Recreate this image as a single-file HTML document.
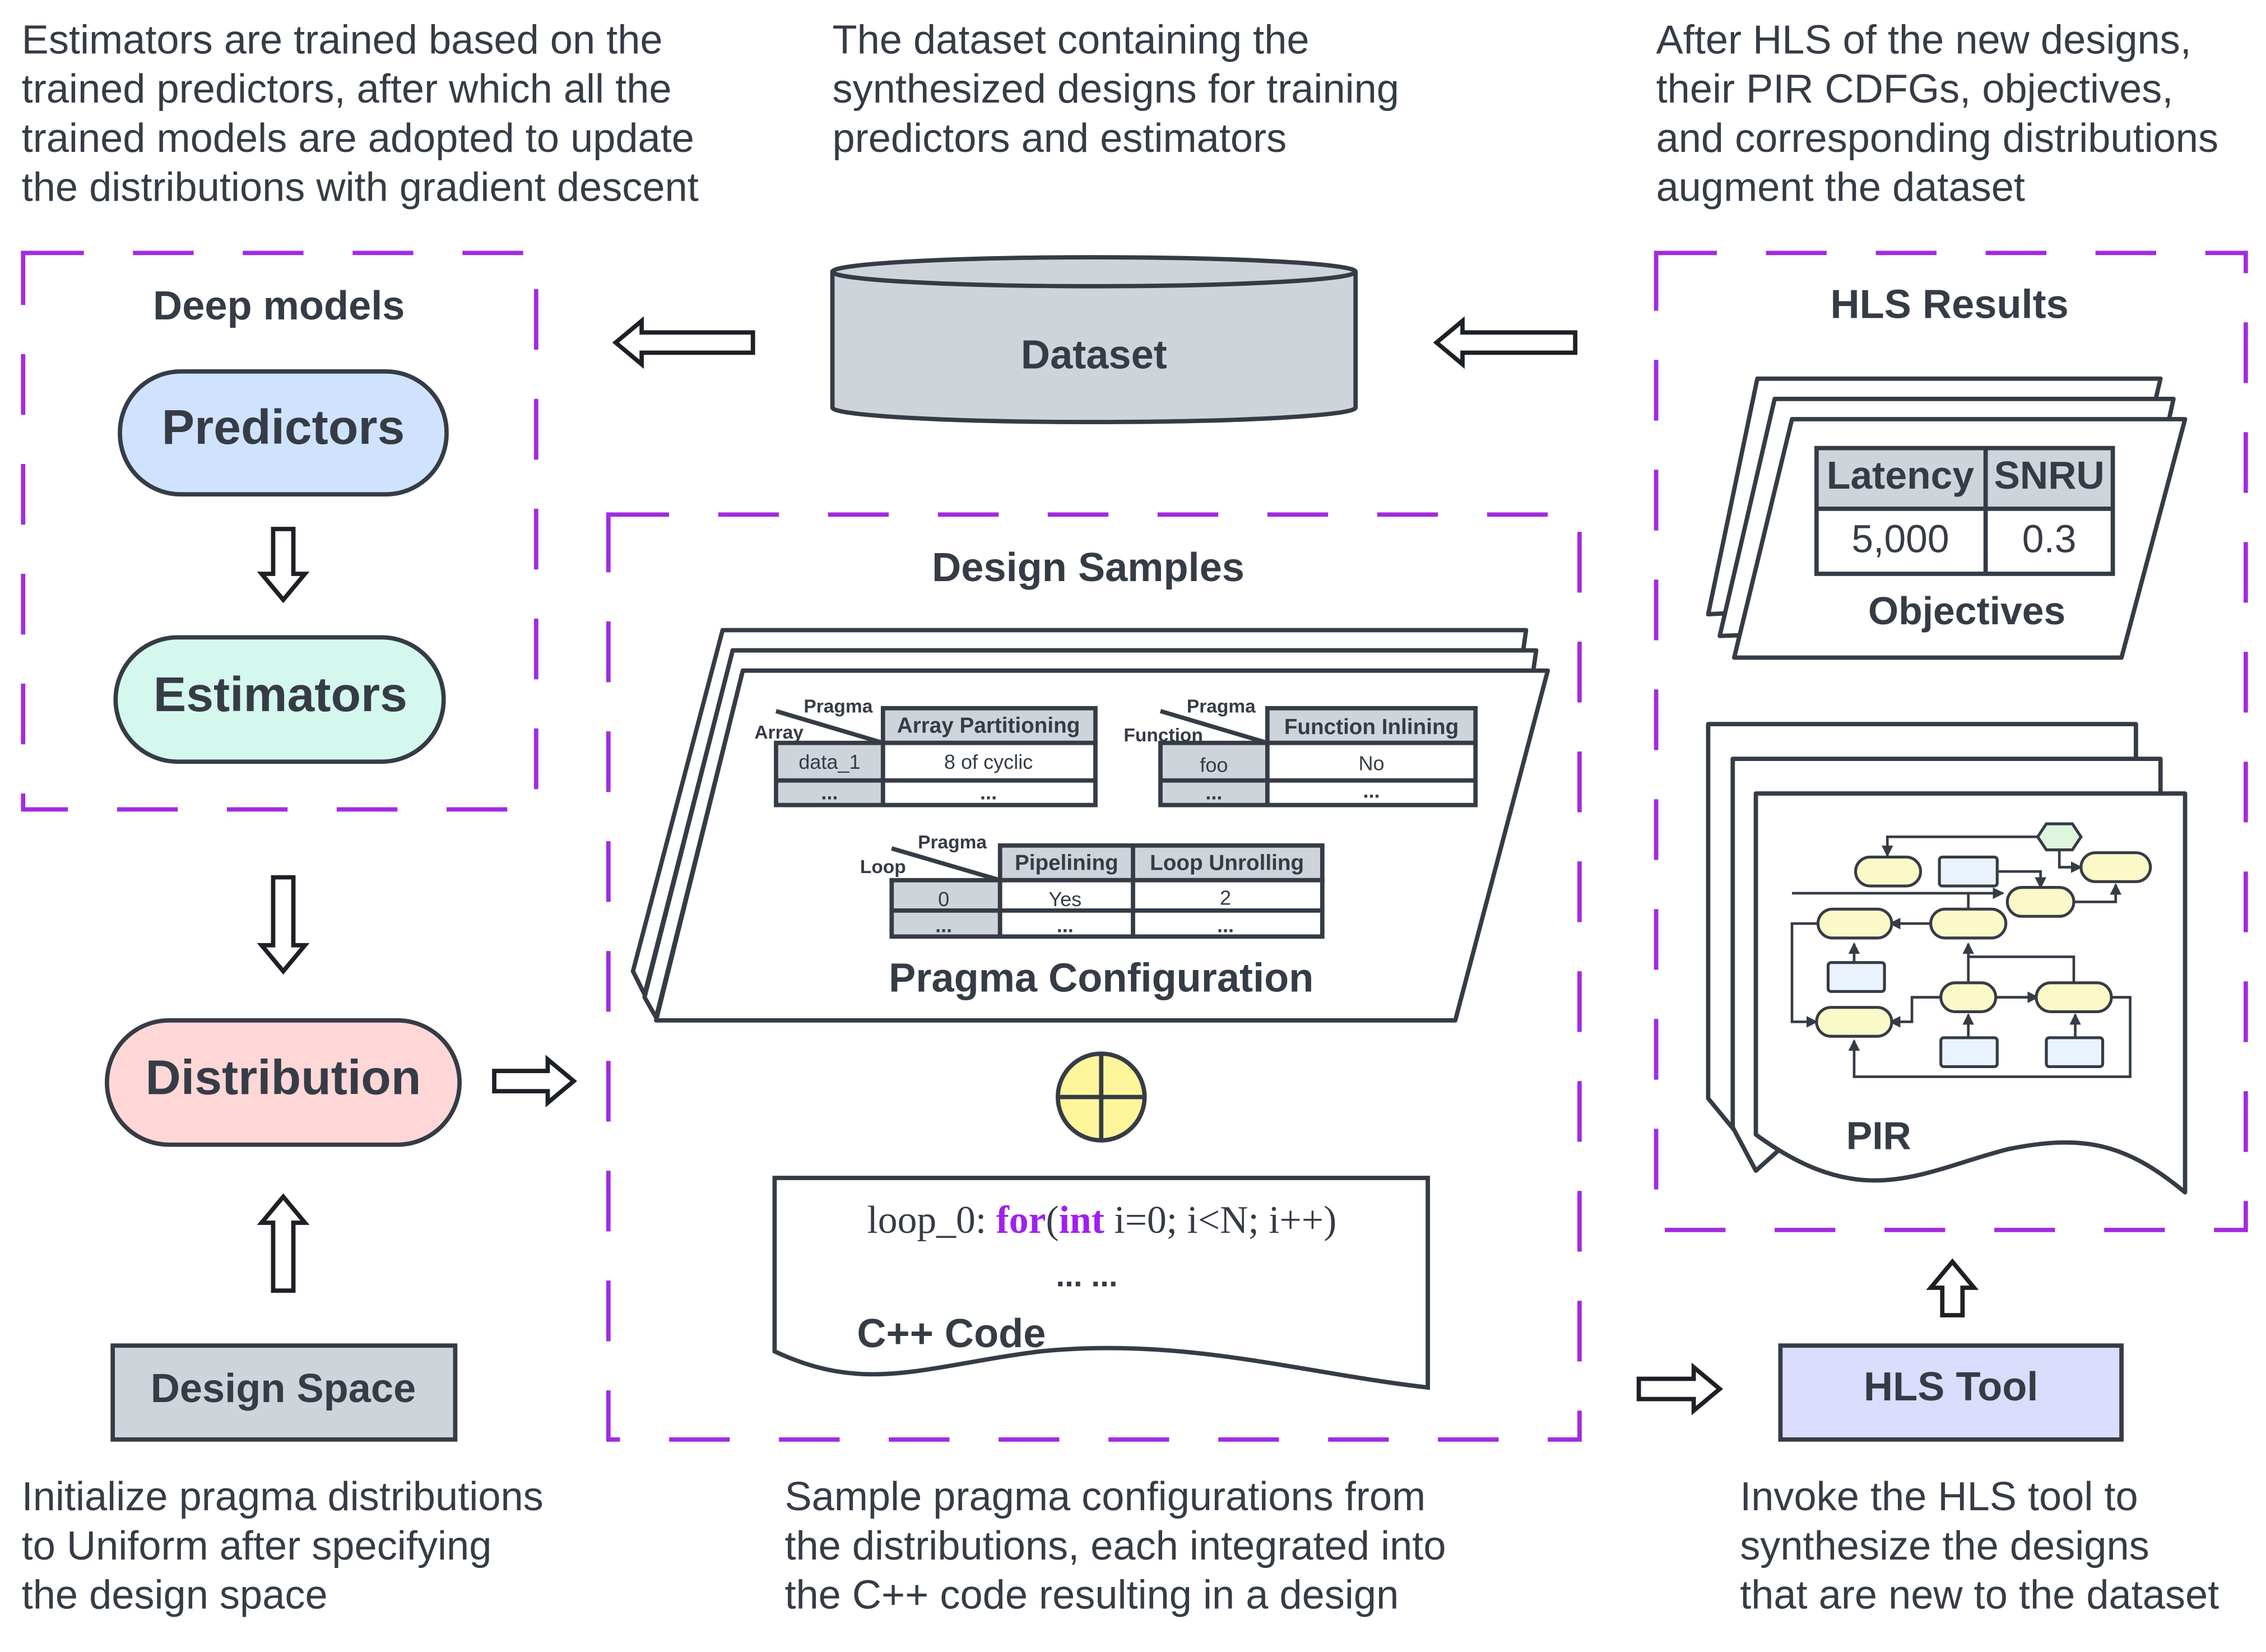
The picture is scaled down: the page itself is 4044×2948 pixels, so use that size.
<!DOCTYPE html>
<html><head><meta charset="utf-8"><style>
html,body{margin:0;padding:0;background:#fff;}
svg{display:block;}
text{font-family:"Liberation Sans",sans-serif;fill:#363c46;}
text.serif{font-family:"Liberation Serif",serif;}
</style></head><body>
<svg width="4044" height="2948" viewBox="0 0 1568 1143" xmlns="http://www.w3.org/2000/svg">
<defs>
<marker id="ah" markerWidth="8" markerHeight="8" refX="7" refY="4" orient="auto" markerUnits="userSpaceOnUse"><path d="M0,0 L8,4 L0,8 Z" fill="#363c46"/></marker>
</defs>
<g font-size="28">
<text x="15" y="37">Estimators are trained based on the</text>
<text x="15" y="71">trained predictors, after which all the</text>
<text x="15" y="105">trained models are adopted to update</text>
<text x="15" y="139">the distributions with gradient descent</text>
<text x="576" y="37">The dataset containing the</text>
<text x="576" y="71">synthesized designs for training</text>
<text x="576" y="105">predictors and estimators</text>
<text x="1146" y="37">After HLS of the new designs,</text>
<text x="1146" y="71">their PIR CDFGs, objectives,</text>
<text x="1146" y="105">and corresponding distributions</text>
<text x="1146" y="139">augment the dataset</text>
<text x="15" y="1045">Initialize pragma distributions</text>
<text x="15" y="1079">to Uniform after specifying</text>
<text x="15" y="1113">the design space</text>
<text x="543" y="1045">Sample pragma configurations from</text>
<text x="543" y="1079">the distributions, each integrated into</text>
<text x="543" y="1113">the C++ code resulting in a design</text>
<text x="1204" y="1045">Invoke the HLS tool to</text>
<text x="1204" y="1079">synthesize the designs</text>
<text x="1204" y="1113">that are new to the dataset</text>
</g>
<g fill="none" stroke="#a22be0" stroke-width="3" stroke-dasharray="42,34">
<rect x="16" y="175" width="355" height="385"/>
<rect x="421" y="356" width="672" height="640"/>
<rect x="1146" y="175" width="408" height="676"/>
</g>
<g font-weight="bold" text-anchor="middle">
<text x="193" y="221" font-size="28">Deep models</text>
<text x="753" y="402" font-size="28">Design Samples</text>
<text x="1349" y="220" font-size="28">HLS Results</text>
</g>
<g stroke="#363c46" stroke-width="3">
<rect x="83" y="257" width="226" height="85" rx="42" fill="#cfe3ff"/>
<rect x="80" y="441" width="227" height="86" rx="43" fill="#d4f7ee"/>
<rect x="74" y="706" width="244" height="86" rx="43" fill="#ffd7d7"/>
<rect x="78" y="931" width="237" height="65" fill="#cfd4db"/>
<rect x="1232" y="931" width="236" height="65" fill="#dcdcfd"/>
</g>
<g font-weight="bold" text-anchor="middle">
<text x="196" y="307" font-size="34">Predictors</text>
<text x="194" y="492" font-size="34">Estimators</text>
<text x="196" y="757" font-size="34">Distribution</text>
<text x="196" y="970" font-size="28">Design Space</text>
<text x="1350" y="969" font-size="28">HLS Tool</text>
</g>
<path d="M576,188 L576,282 A181,10 0 0 0 938,282 L938,188" fill="#cfd4db" stroke="#363c46" stroke-width="3"/>
<ellipse cx="757" cy="188" rx="181" ry="10" fill="#cfd4db" stroke="#363c46" stroke-width="3"/>
<text x="757" y="255" font-size="28" font-weight="bold" text-anchor="middle">Dataset</text>
<g fill="#fff" stroke="#1d2126" stroke-width="3" stroke-linejoin="miter">
<polygon points="426,237 444,222 444,230 521,230 521,244 444,244 444,252"/>
<polygon points="994,237 1012,222 1012,230 1090,230 1090,244 1012,244 1012,252"/>
<polygon points="196,415 181,397 189,397 189,366 203,366 203,397 211,397"/>
<polygon points="196,672 181,654 189,654 189,607 203,607 203,654 211,654"/>
<polygon points="196,828 181,846 189,846 189,893 203,893 203,846 211,846"/>
<polygon points="397,748 379,733 379,741 342,741 342,755 379,755 379,763"/>
<polygon points="1190,961 1172,946 1172,954 1134,954 1134,968 1172,968 1172,976"/>
<polygon points="1351,873 1336,891 1344,891 1344,910 1358,910 1358,891 1366,891"/>
</g>
<g fill="#fff" stroke="#363c46" stroke-width="3" stroke-linejoin="round">
<polygon points="500,436 1056,436 1054,450 507,450 446,688 438,672"/>
<polygon points="507,450 1063,450 1061,464 514,464 454,704 446,690"/>
<polygon points="514,464 1071,464 1007,706 454,706"/>
</g>
<g stroke="#363c46" stroke-width="3">
<rect x="611" y="490" width="147" height="24" fill="#cfd4db"/>
<rect x="537" y="514" width="74" height="43" fill="#cfd4db"/>
<rect x="611" y="514" width="147" height="43" fill="#fff"/>
<line x1="537" y1="540" x2="758" y2="540"/>
<line x1="537" y1="492" x2="611" y2="514"/>
<rect x="877" y="490" width="144" height="24" fill="#cfd4db"/>
<rect x="803" y="514" width="74" height="43" fill="#cfd4db"/>
<rect x="877" y="514" width="144" height="43" fill="#fff"/>
<line x1="803" y1="540" x2="1021" y2="540"/>
<line x1="803" y1="492" x2="877" y2="514"/>
<rect x="692" y="585" width="223" height="24" fill="#cfd4db"/>
<line x1="784" y1="585" x2="784" y2="648"/>
<rect x="617" y="609" width="75" height="39" fill="#cfd4db"/>
<rect x="692" y="609" width="223" height="39" fill="#fff"/>
<line x1="784" y1="609" x2="784" y2="648"/>
<line x1="617" y1="630" x2="915" y2="630"/>
<line x1="617" y1="587" x2="692" y2="609"/>
</g>
<g font-size="14" text-anchor="middle">
<text x="684" y="507" font-weight="bold" font-size="15">Array Partitioning</text>
<text x="949" y="508" font-weight="bold" font-size="15">Function Inlining</text>
<text x="738" y="602" font-weight="bold" font-size="15">Pipelining</text>
<text x="849" y="602" font-weight="bold" font-size="15">Loop Unrolling</text>
<text x="574" y="532">data_1</text><text x="684" y="532">8 of cyclic</text>
<text x="574" y="553" font-weight="bold">...</text><text x="684" y="553" font-weight="bold">...</text>
<text x="840" y="534">foo</text><text x="949" y="533">No</text>
<text x="840" y="553" font-weight="bold">...</text><text x="949" y="552" font-weight="bold">...</text>
<text x="653" y="627">0</text><text x="737" y="627">Yes</text><text x="848" y="626">2</text>
<text x="653" y="645" font-weight="bold">...</text><text x="737" y="645" font-weight="bold">...</text><text x="848" y="645" font-weight="bold">...</text>
<g font-weight="bold" font-size="13">
<text x="580" y="493">Pragma</text><text x="539" y="511">Array</text>
<text x="845" y="493">Pragma</text><text x="805" y="513">Function</text>
<text x="659" y="587">Pragma</text><text x="611" y="604">Loop</text>
</g>
</g>
<text x="762" y="686" font-size="28" font-weight="bold" text-anchor="middle">Pragma Configuration</text>
<circle cx="762" cy="759" r="30" fill="#fff59b" stroke="#363c46" stroke-width="3"/>
<line x1="732" y1="759" x2="792" y2="759" stroke="#363c46" stroke-width="3"/>
<line x1="762" y1="729" x2="762" y2="789" stroke="#363c46" stroke-width="3"/>
<path d="M536,815 L988,815 L988,960 C900,950 820,925 720,935 C640,945 600,965 536,935 Z" fill="#fff" stroke="#363c46" stroke-width="3"/>
<text class="serif" x="600" y="853" font-size="27">loop_0: <tspan fill="#a020f0" font-weight="bold">for</tspan>(<tspan fill="#a020f0" font-weight="bold">int</tspan> i=0; i&lt;N; i++)</text>
<text x="752" y="890" font-size="22" font-weight="bold" text-anchor="middle">... ...</text>
<text x="593" y="932" font-size="28" font-weight="bold">C++ Code</text>
<g fill="#fff" stroke="#363c46" stroke-width="3" stroke-linejoin="round">
<polygon points="1216,262 1495,262 1460,410 1182,425"/>
<polygon points="1228,276 1504,276 1470,430 1190,440"/>
<polygon points="1240,290 1512,290 1468,455 1200,455"/>
</g>
<g stroke="#363c46" stroke-width="3">
<rect x="1257" y="310" width="205" height="42" fill="#cfd4db"/>
<rect x="1257" y="352" width="205" height="45" fill="#fff"/>
<line x1="1374" y1="310" x2="1374" y2="397"/>
</g>
<g text-anchor="middle">
<text x="1315" y="338" font-size="27" font-weight="bold">Latency</text>
<text x="1418" y="338" font-size="27" font-weight="bold">SNRU</text>
<text x="1315" y="382" font-size="27">5,000</text>
<text x="1418" y="382" font-size="27">0.3</text>
<text x="1361" y="432" font-size="27" font-weight="bold">Objectives</text>
</g>
<g fill="#fff" stroke="#363c46" stroke-width="3" stroke-linejoin="round">
<polygon points="1182,501 1478,501 1478,560 1215,800 1182,760"/>
<polygon points="1199,525 1495,525 1495,560 1215,810 1199,780"/>
<path d="M1215,549 L1512,549 L1512,825 C1470,790 1440,785 1390,795 C1330,810 1290,840 1215,785 Z"/>
</g>
<text x="1300" y="795" font-size="27" font-weight="bold" text-anchor="middle">PIR</text>
<g fill="none" stroke="#363c46" stroke-width="1.8">
<path d="M1410,579 L1306,579 L1306,592" marker-end="url(#ah)"/>
<path d="M1425,588 L1425,600 L1440,600" marker-end="url(#ah)"/>
<path d="M1383,603 L1412,603 L1412,614" marker-end="url(#ah)"/>
<path d="M1436,624 L1464,624 L1464,612" marker-end="url(#ah)"/>
<path d="M1339,639 L1308,639" marker-end="url(#ah)"/>
<path d="M1258,639 L1240,639 L1240,707 L1257,707" marker-end="url(#ah)"/>
<path d="M1240,618 L1362,618 L1362,629 M1362,618 L1386,618" marker-end="url(#ah)"/>
<path d="M1283,666 L1283,653" marker-end="url(#ah)"/>
<path d="M1362,680 L1362,653" marker-end="url(#ah)"/>
<path d="M1435,680 L1435,662 L1362,662"/>
<path d="M1381,690 L1410,690" marker-end="url(#ah)"/>
<path d="M1343,690 L1323,690 L1323,707 L1308,707" marker-end="url(#ah)"/>
<path d="M1362,718 L1362,702" marker-end="url(#ah)"/>
<path d="M1436,718 L1436,702" marker-end="url(#ah)"/>
<path d="M1460,690 L1474,690 L1474,745 L1283,745 L1283,720" marker-end="url(#ah)"/>
</g>
<g stroke="#363c46" stroke-width="2">
<polygon points="1416,570 1434,570 1440,579 1434,588 1416,588 1410,579" fill="#ddf6dd"/>
<g fill="#fbf9c8">
<rect x="1284" y="593" width="45" height="20" rx="10"/>
<rect x="1440" y="590" width="48" height="20" rx="10"/>
<rect x="1389" y="614" width="46" height="20" rx="10"/>
<rect x="1258" y="629" width="51" height="20" rx="10"/>
<rect x="1336" y="629" width="52" height="20" rx="10"/>
<rect x="1343" y="680" width="38" height="20" rx="10"/>
<rect x="1409" y="680" width="52" height="20" rx="10"/>
<rect x="1257" y="697" width="52" height="20" rx="10"/>
</g>
<g fill="#eaf3fd">
<rect x="1342" y="593" width="40" height="20" rx="2"/>
<rect x="1265" y="666" width="39" height="20" rx="2"/>
<rect x="1343" y="718" width="39" height="20" rx="2"/>
<rect x="1416" y="718" width="39" height="20" rx="2"/>
</g>
</g>
</svg>
</body></html>
